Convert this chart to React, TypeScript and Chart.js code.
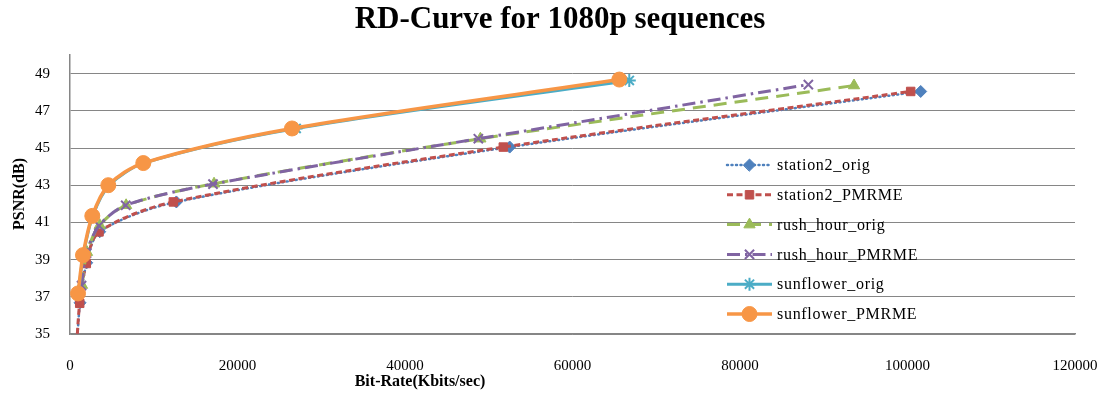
import React, { useEffect, useRef } from 'react';
import { Chart, registerables } from 'chart.js';
import { drawPoint } from 'chart.js/helpers';

Chart.register(...registerables);

const TITLE = 'RD-Curve for 1080p sequences';
const X_TITLE = 'Bit-Rate(Kbits/sec)';
const Y_TITLE = 'PSNR(dB)';
const X_TICKS = [0, 20000, 40000, 60000, 80000, 100000, 120000];
const Y_TICKS = [35, 37, 39, 41, 43, 45, 47, 49];
const SERIES_NAMES = ['station2_orig', 'station2_PMRME', 'rush_hour_orig', 'rush_hour_PMRME', 'sunflower_orig', 'sunflower_PMRME'];

const station2OrigX = [830, 1200, 2000, 3550, 12700, 52500, 101576];
const station2OrigY = [34.5, 36.68, 38.83, 40.5, 42.1, 45.05, 48.04];
const station2PmrmeX = [800, 1158, 1946, 3463, 12336, 51738, 100380];
const station2PmrmeY = [34.5, 36.65, 38.79, 40.49, 42.1, 45.05, 48.04];
const rushOrigX = [1433, 2030, 3550, 6700, 17200, 49000, 93612];
const rushOrigY = [37.63, 39.4, 40.85, 41.92, 43.08, 45.5, 48.36];
const rushPmrmeX = [1380, 1980, 3463, 6650, 17075, 48757, 88160];
const rushPmrmeY = [37.6, 39.35, 40.82, 41.92, 43.06, 45.5, 48.41];
const sunOrigX = [1000, 1600, 2750, 4700, 8900, 27000, 66780];
const sunOrigY = [37.2, 39.27, 41.38, 43.0, 44.2, 46.05, 48.63];
const sunPmrmeX = [955, 1552, 2663, 4573, 8752, 26507, 65590];
const sunPmrmeY = [37.18, 39.24, 41.35, 43.0, 44.19, 46.05, 48.68];

const SERIES_X = [station2OrigX, station2PmrmeX, rushOrigX, rushPmrmeX, sunOrigX, sunPmrmeX];
const SERIES_Y = [station2OrigY, station2PmrmeY, rushOrigY, rushPmrmeY, sunOrigY, sunPmrmeY];

const STYLES = [
  { color: '#4F81BD', dash: [1, 3.5], width: 2.5, pointStyle: 'rectRot', radius: 6, cap: 'round' },
  { color: '#C0504D', dash: [6, 3.5], width: 3, pointStyle: 'rect', radius: 6, cap: 'butt' },
  { color: '#9BBB59', dash: [13, 8], width: 3, pointStyle: 'triangle', radius: 6.5, cap: 'butt' },
  { color: '#8064A2', dash: [13, 5, 2.5, 5], width: 3, pointStyle: 'crossRot', radius: 6.5, cap: 'butt' },
  { color: '#4BACC6', dash: [], width: 3, pointStyle: 'star', radius: 6.5, cap: 'butt' },
  { color: '#F79646', dash: [], width: 3.5, pointStyle: 'circle', radius: 7.5, cap: 'butt' },
];

const SERIF = "'Liberation Serif', 'Times New Roman', serif";

const markerBorder = (ps: string) => (ps === 'crossRot' || ps === 'star' ? 2 : 1);

const overlayPlugin = {
  id: 'overlay',
  afterDatasetsDraw(chart: any) {
    const ctx = chart.ctx as CanvasRenderingContext2D;
    ctx.save();
    // legend
    const lx0 = 727, lx1 = 772, tx = 777;
    const y0 = 165, dy = 29.8;
    ctx.font = `16px ${SERIF}`;
    (ctx as any).letterSpacing = '0.7px';
    SERIES_NAMES.forEach((name, i) => {
      const s = STYLES[i];
      const y = y0 + i * dy;
      ctx.beginPath();
      ctx.setLineDash(s.dash);
      ctx.lineCap = s.cap as CanvasLineCap;
      ctx.strokeStyle = s.color;
      ctx.lineWidth = s.width;
      ctx.moveTo(lx0, y);
      ctx.lineTo(lx1, y);
      ctx.stroke();
      ctx.setLineDash([]);
      ctx.fillStyle = s.color;
      ctx.strokeStyle = s.color;
      ctx.lineWidth = markerBorder(s.pointStyle);
      drawPoint(ctx, { pointStyle: s.pointStyle as any, radius: s.radius, rotation: 0, borderWidth: ctx.lineWidth }, (lx0 + lx1) / 2, y);
      ctx.fillStyle = '#000';
      ctx.textAlign = 'left';
      ctx.textBaseline = 'middle';
      ctx.fillText(name, tx, y + 1);
    });
    (ctx as any).letterSpacing = '0px';
    // title
    ctx.fillStyle = '#000';
    ctx.font = `bold 31px ${SERIF}`;
    ctx.textAlign = 'center';
    ctx.textBaseline = 'middle';
    ctx.fillText(TITLE, 560, 20);
    // x title
    ctx.font = `bold 16px ${SERIF}`;
    ctx.fillText(X_TITLE, 420, 382);
    // y title
    ctx.translate(20, 194);
    ctx.rotate(-Math.PI / 2);
    ctx.fillText(Y_TITLE, 0, 0);
    ctx.restore();
  },
};

export default function App() {
  const canvasRef = useRef<HTMLCanvasElement | null>(null);

  useEffect(() => {
    document.body.style.margin = '0';
    const canvas = canvasRef.current;
    if (!canvas) return;
    const datasets = SERIES_NAMES.map((name, i) => {
      const s = STYLES[i];
      return {
        label: name,
        data: SERIES_X[i].map((x, j) => ({ x, y: SERIES_Y[i][j] })),
        borderColor: s.color,
        backgroundColor: s.color,
        borderWidth: s.width,
        borderDash: s.dash,
        borderCapStyle: s.cap,
        pointStyle: s.pointStyle,
        pointRadius: s.radius,
        pointBackgroundColor: s.color,
        pointBorderColor: s.color,
        pointBorderWidth: markerBorder(s.pointStyle),
        cubicInterpolationMode: 'default',
        tension: 0.3,
        fill: false,
        order: SERIES_NAMES.length - 1 - i,
      };
    });
    const chart = new Chart(canvas, {
      type: 'scatter',
      data: { datasets } as any,
      options: {
        animation: false,
        responsive: false,
        devicePixelRatio: 1,
        showLine: true,
        layout: { padding: { top: 55, right: 24, left: 0, bottom: 0 } },
        plugins: { legend: { display: false }, title: { display: false }, tooltip: { enabled: false } },
        scales: {
          x: {
            type: 'linear',
            min: 0,
            max: 120000,
            afterBuildTicks: (scale: any) => { scale.ticks = X_TICKS.map((v) => ({ value: v })); },
            afterFit: (scale: any) => { scale.height = 62; scale.paddingLeft = 0; scale.paddingRight = 0; },
            grid: { display: false, drawTicks: false },
            border: { display: true, color: '#868686', width: 1.5 },
            ticks: {
              color: '#000',
              font: { family: SERIF, size: 15 },
              padding: 23,
              maxRotation: 0,
              autoSkip: false,
              callback: (v: any) => String(v),
            },
          },
          y: {
            type: 'linear',
            min: 35,
            max: 50,
            afterBuildTicks: (scale: any) => { scale.ticks = Y_TICKS.map((v) => ({ value: v })); },
            afterFit: (scale: any) => { scale.width = 70; scale.paddingTop = 0; scale.paddingBottom = 0; },
            grid: { display: true, drawTicks: false, color: '#868686', lineWidth: 1 },
            border: { display: true, color: '#868686', width: 1.5 },
            ticks: {
              color: '#000',
              font: { family: SERIF, size: 15 },
              padding: 20,
              autoSkip: false,
              callback: (v: any) => String(v),
            },
          },
        },
      } as any,
      plugins: [overlayPlugin],
    });
    return () => chart.destroy();
  }, []);

  return (
    <div style={{ width: 1099, height: 396 }}>
      <canvas ref={canvasRef} width={1099} height={396} />
    </div>
  );
}
